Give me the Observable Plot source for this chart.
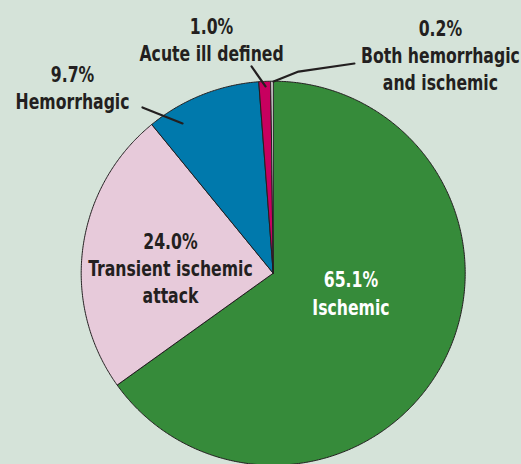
<!DOCTYPE html>
<html>
<head>
<meta charset="utf-8">
<script src="https://cdn.jsdelivr.net/npm/d3@7"></script>
<script src="https://cdn.jsdelivr.net/npm/@observablehq/plot@0.6"></script>
<style>
  html, body { margin: 0; padding: 0; background: #d5e3d9; }
  #chart { width: 521px; height: 464px; overflow: hidden; }
</style>
</head>
<body>
<div id="chart"></div>
<script>
// Data (clockwise from 12 o'clock)
const categories = ["Ischemic", "Transient ischemic attack", "Hemorrhagic", "Acute ill defined", "Both hemorrhagic and ischemic"];
const shares = [65.1, 24.0, 9.7, 1.0, 0.2];
const sliceColors = ["#368b3a", "#e7cada", "#0079ac", "#c7005f", "#ffffff"];

// Labels
const labelTexts = ["65.1%\nIschemic", "24.0%\nTransient ischemic\nattack", "9.7%\nHemorrhagic", "1.0%\nAcute ill defined", "0.2%\nBoth hemorrhagic\nand ischemic"];
const labelColors = ["#ffffff", "#231f20", "#231f20", "#231f20", "#231f20"];
const labelX = [0.405, -0.535, -1.045, -0.321, 0.871];
const labelY = [-0.100, 0.032, 0.970, 1.222, 1.141];

// Leader lines (unit-circle coordinates)
const leaders = [
  {name: "Hemorrhagic", pts: [[-0.681, 0.863], [-0.472, 0.780]]},
  {name: "Acute ill defined", pts: [[-0.113, 1.077], [-0.040, 0.973]]},
  {name: "Both", pts: [[0.002, 0.998], [0.132, 1.050], [0.423, 1.092]]}
];

// Build slice polygons from the values
const total = d3.sum(shares);
let acc = 0;
const slices = categories.map((name, i) => {
  const a0 = acc / total * 2 * Math.PI;
  acc += shares[i];
  const a1 = acc / total * 2 * Math.PI;
  const n = Math.max(2, Math.ceil((a1 - a0) / (Math.PI / 360)));
  const pts = [{x: 0, y: 0}];
  for (let k = 0; k <= n; k++) {
    const a = a0 + (a1 - a0) * k / n;
    pts.push({x: Math.sin(a), y: Math.cos(a)});
  }
  pts.push({x: 0, y: 0});
  return {name, color: sliceColors[i], pts};
});

const labels = labelTexts.map((t, i) => ({text: t, x: labelX[i], y: labelY[i], color: labelColors[i]}));
const leaderRows = leaders.flatMap(l => l.pts.map(p => ({name: l.name, x: p[0], y: p[1]})));

const R = 192, CX = 272.7, CY = 272.7, W = 521, H = 464;

const chart = Plot.plot({
  width: W,
  height: H,
  margin: 0,
  style: {background: "#d5e3d9", fontFamily: "'DejaVu Sans Condensed', 'DejaVu Sans', sans-serif"},
  x: {domain: [-CX / R, (W - CX) / R], range: [0, W], axis: null},
  y: {domain: [-(H - CY) / R, CY / R], range: [H, 0], axis: null},
  marks: [
    ...slices.map(s => Plot.line(s.pts, {x: "x", y: "y", fill: s.color, stroke: "#231f20", strokeWidth: 1, strokeLinejoin: "round"})),
    Plot.line(leaderRows, {x: "x", y: "y", z: "name", stroke: "#231f20", strokeWidth: 2.2}),
    Plot.text(labels, {x: "x", y: "y", text: "text", fill: "color", fontSize: 21, fontWeight: "bold", lineHeight: 1.3, lineAnchor: "middle", textAnchor: "middle"})
  ]
});
// Condense label glyphs horizontally around their anchor to mimic a condensed typeface
chart.querySelectorAll('g[aria-label="text"] text').forEach(t => {
  const tr = t.getAttribute("transform") || "";
  t.setAttribute("transform", tr + " scale(0.83,1)");
});
document.getElementById("chart").appendChild(chart);
</script>
</body>
</html>
